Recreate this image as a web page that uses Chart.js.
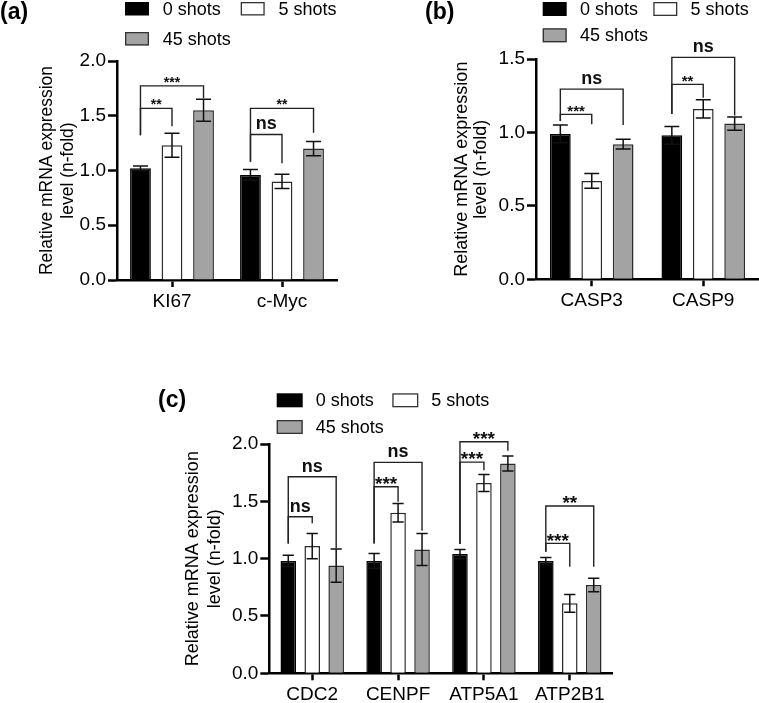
<!DOCTYPE html>
<html><head><meta charset="utf-8">
<script src="https://cdn.jsdelivr.net/npm/chart.js@4.4.0/dist/chart.umd.min.js"></script>
<style>
html,body{margin:0;padding:0;background:#fff;width:759px;height:703px;overflow:hidden;position:relative}
canvas{position:absolute}
</style></head><body>
<canvas id="ca" width="380" height="320" style="left:0;top:0;width:380px;height:320px"></canvas>
<canvas id="cb" width="379" height="320" style="left:380px;top:0;width:379px;height:320px"></canvas>
<canvas id="cc" width="470" height="343" style="left:150px;top:360px;width:470px;height:343px"></canvas>
<script>
const FAM = "'Liberation Sans', Arial, Helvetica, sans-serif";
const seriesNames = ['0 shots', '5 shots', '45 shots'];
const yTitle = ['Relative mRNA expression', 'level (n-fold)'];

// Panel (a)
const catsA = ['KI67', 'c-Myc'];
const shots0A = [1.02, 0.96];
const shots5A = [1.23, 0.90];
const shots45A = [1.55, 1.20];
const err0A = [0.02, 0.05];
const err5A = [0.11, 0.065];
const err45A = [0.10, 0.065];
const yTicksA = ['0.0', '0.5', '1.0', '1.5', '2.0'];
// [category, fromSeries, toSeries, lineValue, leftEndValue, rightEndValue, label]
const bracketsA = [
  [0, 0, 2, 1.773, 1.323, 1.66, '***'],
  [0, 0, 1, 1.567, 1.323, 1.405, '**'],
  [1, 0, 2, 1.567, 1.079, 1.344, '**'],
  [1, 0, 1, 1.329, 1.079, 1.067, 'ns']
];

// Panel (b)
const catsB = ['CASP3', 'CASP9'];
const shots0B = [0.99, 0.98];
const shots5B = [0.67, 1.16];
const shots45B = [0.92, 1.06];
const err0B = [0.06, 0.06];
const err5B = [0.05, 0.062];
const err45B = [0.033, 0.045];
const yTicksB = ['0.0', '0.5', '1.0', '1.5'];
const bracketsB = [
  [0, 0, 2, 1.295, 1.078, 1.05, 'ns'],
  [0, 0, 1, 1.123, 1.078, 1.055, '***'],
  [1, 0, 2, 1.511, 1.125, 1.116, 'ns'],
  [1, 0, 1, 1.327, 1.125, 1.236, '**']
];

// Panel (c)
const catsC = ['CDC2', 'CENPF', 'ATP5A1', 'ATP2B1'];
const shots0C = [0.98, 0.98, 1.04, 0.98];
const shots5C = [1.11, 1.40, 1.66, 0.61];
const shots45C = [0.94, 1.08, 1.83, 0.77];
const err0C = [0.05, 0.065, 0.04, 0.03];
const err5C = [0.11, 0.08, 0.075, 0.078];
const err45C = [0.145, 0.14, 0.065, 0.058];
const yTicksC = ['0.0', '0.5', '1.0', '1.5', '2.0'];
const bracketsC = [
  [0, 0, 2, 1.714, 1.133, 1.090, 'ns'],
  [0, 0, 1, 1.365, 1.133, 1.308, 'ns'],
  [1, 0, 2, 1.840, 1.133, 1.243, 'ns'],
  [1, 0, 1, 1.627, 1.133, 1.496, '***'],
  [2, 0, 2, 2.019, 1.127, 1.941, '***'],
  [2, 0, 1, 1.842, 1.127, 1.772, '***'],
  [3, 0, 2, 1.459, 1.060, 0.929, '**'],
  [3, 0, 1, 1.133, 1.060, 0.929, '***']
];

const annot = {
  id: 'annot',
  afterDatasetsDraw(chart, args, o) {
    const ctx = chart.ctx, ys = chart.scales.y;
    ctx.save();
    ctx.strokeStyle = '#111';
    ctx.lineWidth = 1.5;
    chart.data.datasets.forEach((ds, i) => {
      const meta = chart.getDatasetMeta(i);
      meta.data.forEach((bar, j) => {
        const v = ds.data[j], e = o.errors[i][j];
        const x = bar.x, cw = bar.width * 0.36;
        const yt = ys.getPixelForValue(v + e), yb = ys.getPixelForValue(v - e);
        ctx.beginPath();
        ctx.moveTo(x, yt); ctx.lineTo(x, yb);
        ctx.moveTo(x - cw, yt); ctx.lineTo(x + cw, yt);
        ctx.moveTo(x - cw, yb); ctx.lineTo(x + cw, yb);
        ctx.stroke();
      });
    });
    ctx.restore();
  },
  afterDraw(chart, args, o) {
    const ctx = chart.ctx, ys = chart.scales.y;
    const Y = v => ys.getPixelForValue(v);
    ctx.save();
    // significance brackets
    ctx.strokeStyle = '#222';
    ctx.lineWidth = 1.4;
    ctx.fillStyle = '#111';
    o.brackets.forEach(([c, s1, s2, yl, ye1, ye2, lab]) => {
      const x1 = chart.getDatasetMeta(s1).data[c].x;
      const x2 = chart.getDatasetMeta(s2).data[c].x;
      ctx.beginPath();
      ctx.moveTo(x1, Y(ye1)); ctx.lineTo(x1, Y(yl));
      ctx.lineTo(x2, Y(yl)); ctx.lineTo(x2, Y(ye2));
      ctx.stroke();
      const star = lab.indexOf('*') >= 0;
      const size = star ? o.starSize : o.nsSize;
      ctx.font = 'bold ' + size + 'px ' + FAM;
      ctx.textAlign = 'center';
      ctx.textBaseline = 'alphabetic';
      const by = star ? Y(yl) - 5 + 0.43 * size : Y(yl) - 5;
      ctx.fillText(lab, (x1 + x2) / 2, by);
    });
    // legend
    const L = o.legend;
    const pos = [[0, 0], [L.col, 0], [0, L.row]];
    ctx.font = L.size + 'px ' + FAM;
    ctx.textAlign = 'left';
    ctx.textBaseline = 'middle';
    chart.data.datasets.forEach((ds, i) => {
      const bx = L.x + pos[i][0], by = L.y + pos[i][1];
      ctx.fillStyle = ds.backgroundColor;
      ctx.fillRect(bx, by, L.bw, L.bh);
      if (i > 0) {
        ctx.strokeStyle = '#333'; ctx.lineWidth = 1.3;
        ctx.strokeRect(bx + 0.65, by + 0.65, L.bw - 1.3, L.bh - 1.3);
      }
      ctx.fillStyle = '#000';
      ctx.fillText(ds.label, bx + L.bw + L.gap, by + L.bh / 2 + 1);
    });
    // panel label
    ctx.font = 'bold 23px ' + FAM;
    ctx.textBaseline = 'alphabetic';
    ctx.fillStyle = '#000';
    ctx.fillText(o.panel.text, o.panel.x, o.panel.y);
    ctx.restore();
  }
};

function makeChart(id, cats, vals, errs, yMax, yTicks, brackets, lay, ann) {
  const colors = ['#000000', '#ffffff', '#a3a3a3'];
  const borders = ['#000000', '#2b2b2b', '#2b2b2b'];
  return new Chart(document.getElementById(id), {
    type: 'bar',
    data: {
      labels: cats,
      datasets: vals.map((d, i) => ({
        label: seriesNames[i], data: d,
        backgroundColor: colors[i], borderColor: borders[i], borderWidth: 1.5,
        categoryPercentage: lay.catPct, barPercentage: lay.barPct
      }))
    },
    options: {
      responsive: false, animation: false, devicePixelRatio: 1,
      layout: { padding: { top: lay.padTop, right: lay.padRight, bottom: 0, left: 0 } },
      plugins: {
        legend: { display: false }, tooltip: { enabled: false },
        annot: Object.assign({ errors: errs, brackets: brackets }, ann)
      },
      scales: {
        x: {
          type: 'category', offset: true,
          grid: { display: true, drawOnChartArea: false, offset: false, tickLength: 7, tickWidth: 2.5, color: '#000' },
          border: { display: true, color: '#000', width: 2.5 },
          ticks: { color: '#000', font: { family: FAM, size: 19 }, padding: lay.xPad, maxRotation: 0, autoSkip: false },
          afterFit: s => { s.height = lay.xH; }
        },
        y: {
          min: 0, max: yMax,
          grid: { display: true, drawOnChartArea: false, tickLength: 9, tickWidth: 2.5, color: '#000' },
          border: { display: true, color: '#000', width: 2.5 },
          ticks: { stepSize: 0.5, color: '#000', font: { family: FAM, size: lay.yTickSize }, padding: 2,
                   callback: (v, i) => yTicks[i] },
          title: { display: true, text: yTitle, color: '#000',
                   font: { family: FAM, size: lay.titleSize, lineHeight: lay.titleLH },
                   padding: { top: lay.titlePad, bottom: 0 } },
          afterFit: s => { s.width = lay.yW; }
        }
      }
    },
    plugins: [annot]
  });
}

makeChart('ca', catsA, [shots0A, shots5A, shots45A], [err0A, err5A, err45A], 2.0, yTicksA, bracketsA,
  { padTop: 61, padRight: 43, yW: 117, xH: 40, xPad: 3, catPct: 0.86, barPct: 0.66, yTickSize: 19,
    titleSize: 17.5, titleLH: 1.23, titlePad: 36 },
  { starSize: 14, nsSize: 18,
    legend: { x: 125, y: 2, col: 115.7, row: 30, bw: 24, bh: 13.5, gap: 13.7, size: 18 },
    panel: { text: '(a)', x: 0, y: 18.5 } });

makeChart('cb', catsB, [shots0B, shots5B, shots45B], [err0B, err5B, err45B], 1.5, yTicksB, bracketsB,
  { padTop: 59, padRight: 0, yW: 156, xH: 40.7, xPad: 3, catPct: 0.845, barPct: 0.66, yTickSize: 19,
    titleSize: 18, titleLH: 1.1, titlePad: 71.8 },
  { starSize: 15, nsSize: 18,
    legend: { x: 162.7, y: 2, col: 110.6, row: 26.3, bw: 24, bh: 14, gap: 13.3, size: 18 },
    panel: { text: '(b)', x: 45, y: 18.5 } });

makeChart('cc', catsC, [shots0C, shots5C, shots45C], [err0C, err5C, err45C], 2.0, yTicksC, bracketsC,
  { padTop: 84, padRight: 7.3, yW: 119.3, xH: 29.7, xPad: 3.5, catPct: 0.837, barPct: 0.65, yTickSize: 19,
    titleSize: 18, titleLH: 1.2, titlePad: 32.5 },
  { starSize: 19, nsSize: 18,
    legend: { x: 126.7, y: 33.3, col: 115.6, row: 26.7, bw: 26, bh: 14, gap: 13, size: 18 },
    panel: { text: '(c)', x: 8, y: 47 } });
</script>
</body></html>
